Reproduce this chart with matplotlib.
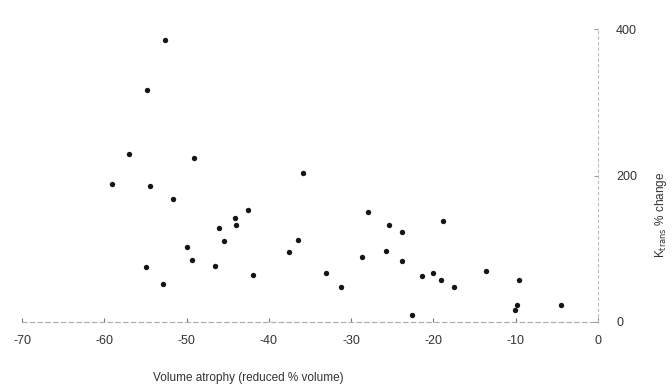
import matplotlib
matplotlib.use("Agg")
import matplotlib.pyplot as plt

# Volume atrophy (reduced % volume) vs K_trans % change
atrophy = [-52.6, -54.8, -57.0, -49.1, -35.8, -59.1, -54.5, -51.7, -42.5, -44.1,
           -44.0, -46.0, -45.5, -36.4, -50.0, -37.6, -49.3, -46.5, -54.9, -41.9,
           -33.1, -52.9, -28.0, -25.4, -23.8, -18.8, -28.7, -25.8, -23.8, -31.2,
           -21.4, -20.0, -19.1, -17.5, -13.6, -9.6, -22.6, -9.9, -10.1, -4.5]
ktrans_change = [385, 317, 229, 224, 204, 189, 186, 168, 153, 142,
                 132, 128, 110, 112, 103, 95, 84, 76, 75, 64,
                 67, 52, 150, 133, 123, 138, 89, 97, 83, 48,
                 63, 67, 58, 48, 70, 57, 9, 23, 17, 23]

x_ticks = [-70, -60, -50, -40, -30, -20, -10, 0]
y_ticks = [0, 200, 400]

plt.rcParams['font.family'] = ['Liberation Sans', 'DejaVu Sans']

fig = plt.figure(figsize=(6.72, 3.87), dpi=100)
ax = fig.add_axes([22 / 672, 65 / 387, 576 / 672, 293 / 387])

ax.scatter(atrophy, ktrans_change, s=15, marker='o', color='#151515',
           linewidths=0, zorder=3)

ax.set_xlim(-70, 0)
ax.set_ylim(0, 400)

ax.set_xticks(x_ticks)
ax.set_xticklabels([str(v) for v in x_ticks])
ax.set_yticks(y_ticks)
ax.set_yticklabels([str(v) for v in y_ticks])

ax.yaxis.tick_right()
ax.tick_params(axis='x', direction='in', length=3, width=0.8, color='#777777',
               labelsize=9, labelcolor='#333333', pad=9)
ax.tick_params(axis='y', direction='in', length=3, width=0.8, color='#999999',
               labelsize=9, labelcolor='#333333', pad=13)

for side in ('top', 'left'):
    ax.spines[side].set_visible(False)
ax.spines['bottom'].set_color('#aaaaaa')
ax.spines['bottom'].set_linestyle((0, (4, 3)))
ax.spines['bottom'].set_linewidth(0.8)
ax.spines['right'].set_color('#bbbbbb')
ax.spines['right'].set_linestyle((0, (2, 3)))
ax.spines['right'].set_linewidth(0.8)

fig.text(248 / 672, 1 - 378 / 387, 'Volume atrophy (reduced % volume)',
         ha='center', va='center', fontsize=8.5, color='#333333')
fig.text(661 / 672, 1 - 215 / 387, r'K$_{\mathrm{trans}}$ % change',
         ha='center', va='center', rotation=90, fontsize=8.5, color='#333333')

fig.savefig('out.png', dpi=100, facecolor='white')
